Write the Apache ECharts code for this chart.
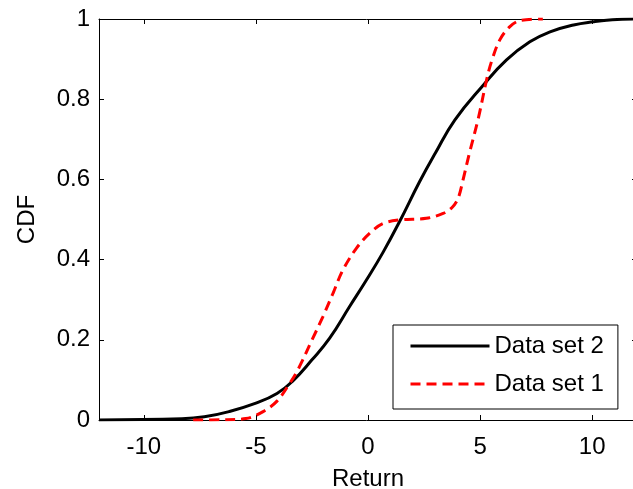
<!DOCTYPE html>
<html>
<head>
<meta charset="utf-8">
<script src="https://cdn.jsdelivr.net/npm/echarts@6/dist/echarts.min.js"></script>
<style>
html,body{margin:0;padding:0;background:#fff;}
#chart{width:633px;height:489px;}
</style>
</head>
<body>
<div id="chart"></div>
<script>
var set2X = [-12, -8.3, -7.3, -6.2, -5.0, -4.06, -3.36, -2.5, -1.71, -0.82, -0.07, 0.67, 1.41, 2.3, 3.0, 3.87, 5.14, 6.18, 7.22, 8.12, 9.17, 10.05, 10.9, 12];
var set2Y = [0, 0.003, 0.008, 0.021, 0.042, 0.066, 0.097, 0.15, 0.204, 0.283, 0.349, 0.418, 0.495, 0.594, 0.665, 0.748, 0.835, 0.898, 0.943, 0.968, 0.985, 0.993, 0.998, 1.0];
// Data set 1 (red dashed) empirical CDF
var set1X = [-7.8, -6.5, -5.45, -4.68, -4.06, -3.51, -3.13, -2.46, -2.01, -1.56, -1.12, -0.52, 0.08, 0.67, 1.42, 2.6, 3.35, 3.75, 4.02, 4.24, 4.5, 4.92, 5.29, 5.51, 5.88, 6.33, 6.78, 7.8];
var set1Y = [0, 0.0005, 0.0035, 0.021, 0.047, 0.09, 0.125, 0.204, 0.258, 0.316, 0.374, 0.428, 0.466, 0.49, 0.499, 0.503, 0.515, 0.53, 0.553, 0.599, 0.66, 0.752, 0.848, 0.894, 0.948, 0.981, 0.996, 1.0];
var xTicks = [-10, -5, 0, 5, 10];
var seriesNames = ['Data set 2', 'Data set 1'];
var xName = 'Return';
var yName = 'CDF';

function pairs(xs, ys) { return xs.map(function (x, i) { return [x, ys[i]]; }); }

var font = 'Arial, "Liberation Sans", sans-serif';
var chart = echarts.init(document.getElementById('chart'), null, {renderer: 'canvas'});
var axisLine = {show: true, onZero: false, lineStyle: {color: '#000', width: 1}};
var tick = {show: true, inside: true, length: 5, lineStyle: {color: '#000', width: 1}};
chart.setOption({
  animation: false,
  backgroundColor: '#fff',
  grid: {left: 99, right: -4, top: 19, bottom: 69, containLabel: false, outerBoundsMode: 'none'},
  xAxis: [{
    type: 'value', min: -12, max: 12, position: 'bottom',
    axisLine: axisLine,
    axisTick: Object.assign({}, tick, {customValues: xTicks}),
    axisLabel: {customValues: xTicks, color: '#000', fontSize: 24, fontFamily: font, margin: 15},
    splitLine: {show: false},
    name: xName, nameLocation: 'middle', nameGap: 47,
    nameTextStyle: {color: '#000', fontSize: 24, fontFamily: font}
  }, {
    type: 'value', min: -12, max: 12, position: 'top',
    axisLine: axisLine,
    axisTick: Object.assign({}, tick, {customValues: xTicks}),
    axisLabel: {show: false}, splitLine: {show: false}
  }],
  yAxis: [{
    type: 'value', min: 0, max: 1, interval: 0.2, position: 'left',
    axisLine: axisLine, axisTick: tick,
    axisLabel: {color: '#000', fontSize: 24, fontFamily: font, margin: 9},
    splitLine: {show: false},
    name: yName, nameLocation: 'middle', nameGap: 60, nameRotate: 90,
    nameTextStyle: {color: '#000', fontSize: 24, fontFamily: font}
  }, {
    type: 'value', min: 0, max: 1, interval: 0.2, position: 'right',
    axisLine: axisLine, axisTick: tick,
    axisLabel: {show: false}, splitLine: {show: false}
  }],
  legend: {
    orient: 'vertical', left: 393, top: 325,
    data: seriesNames,
    itemWidth: 79, itemHeight: 24, itemGap: 14,
    padding: [9, 14, 13, 16],
    borderColor: '#000', borderWidth: 1, backgroundColor: '#fff',
    itemStyle: {opacity: 0, borderWidth: 0},
    lineStyle: {width: 3},
    textStyle: {color: '#000', fontSize: 24, fontFamily: font}
  },
  series: [{
    name: seriesNames[0], type: 'line', data: pairs(set2X, set2Y),
    symbol: 'none', smooth: 0.45,
    lineStyle: {color: '#000', width: 3}, itemStyle: {color: '#000'}
  }, {
    name: seriesNames[1], type: 'line', data: pairs(set1X, set1Y),
    symbol: 'none', smooth: 0.35,
    lineStyle: {color: '#ff0000', width: 3, type: [10, 6]}, itemStyle: {color: '#ff0000'}
  }]
});
</script>
</body>
</html>
